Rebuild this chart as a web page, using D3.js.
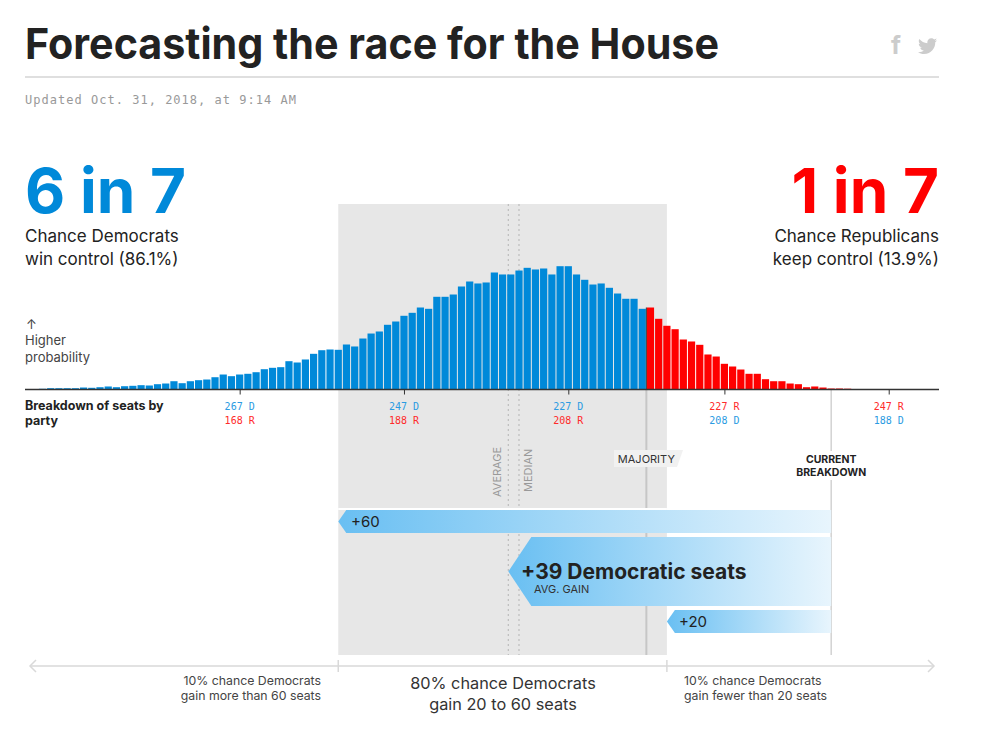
<!DOCTYPE html>
<html lang="en">

<head>
    <meta charset="UTF-8">
    <title>Forecasting the race for the House</title>
    <script src="https://cdn.jsdelivr.net/npm/d3@7"></script>
    <style>
        body {
            margin: 0;
            background: #fff;
        }
        text {
            font-family: Inter, "Noto Sans", sans-serif;
        }
        .mono {
            font-family: "DejaVu Sans Mono", monospace;
        }
    </style>
</head>

<body>
    <div id="chart"></div>
    <script>
        // democratic seats, one bar each, and the chance (%) of landing on it
        const demSeats = [291, 290, 289, 288, 287, 286, 285, 284, 283, 282, 281, 280, 279, 278, 277, 276, 275, 274, 273, 272,
            271, 270, 269, 268, 267, 266, 265, 264, 263, 262, 261, 260, 259, 258, 257, 256, 255, 254, 253, 252,
            251, 250, 249, 248, 247, 246, 245, 244, 243, 242, 241, 240, 239, 238, 237, 236, 235, 234, 233, 232,
            231, 230, 229, 228, 227, 226, 225, 224, 223, 222, 221, 220, 219, 218, 217, 216, 215, 214, 213, 212,
            211, 210, 209, 208, 207, 206, 205, 204, 203, 202, 201, 200, 199, 198, 197, 196, 195, 194, 193, 192];
        const chance = [.016, .029, .029, .029, .029, .044, .038, .051, .067, .051, .073, .082, .096, .089, .118, .133, .184, .14, .184, .207,
            .222, .273, .333, .296, .333, .349, .384, .451, .482, .496, .629, .6, .667, .793, .873, .889, .882, 1, .956, 1.133,
            1.244, 1.289, 1.438, 1.511, 1.638, 1.704, 1.822, 1.793, 2.06, 2.06, 2.111, 2.289, 2.4, 2.356, 2.378, 2.6, 2.556, 2.556, 2.644, 2.704,
            2.667, 2.689, 2.556, 2.74, 2.74, 2.556, 2.438, 2.333, 2.356, 2.26, 2.133, 2.016, 2.016, 1.793, 1.822, 1.571, 1.416, 1.34, 1.111, 1.067,
            .993, .778, .733, .571, .511, .444, .349, .349, .229, .184, .184, .133, .118, .051, .067, .044, .022, .022, .018, .011];

        const tickSeats = [267, 247, 227, 208, 188];
        const tickTop = ["267 D", "247 D", "227 D", "227 R", "247 R"];
        const tickBottom = ["168 R", "188 R", "208 R", "208 D", "188 D"];

        const currentSeats = 195;
        const majoritySeats = 218;
        const averageSeats = 234.3;
        const medianSeats = 233;
        const gainBars = [
            { label: "+60", seats: 255 },
            { label: "+39 Democratic seats", seats: 234.3 },
            { label: "+20", seats: 215 }
        ];

        const blue = "#0089d9";
        const red = "#ff0000";
        const width = 987;
        const height = 733;
        const baseY = 389.5;

        const svg = d3.select("#chart")
            .append("svg")
            .attr("width", width)
            .attr("height", height)
            .style("display", "block");

        const x = d3.scaleLinear().domain([227, 208]).range([568.3, 724.4]);
        const y = d3.scaleLinear().domain([0, 3]).range([baseY, baseY - 135]);
        const barW = x(0) - x(1);

        // gradient for the gain arrows
        const grad = svg.append("defs").append("linearGradient").attr("id", "gain");
        grad.append("stop").attr("offset", "0%").attr("stop-color", "#69bff2");
        grad.append("stop").attr("offset", "100%").attr("stop-color", "#e8f5fd");

        // title block
        svg.append("text").attr("x", 25).attr("y", 59)
            .attr("font-size", 43).attr("font-weight", 700).attr("fill", "#222")
            .attr("textLength", 694).attr("lengthAdjust", "spacingAndGlyphs")
            .text("Forecasting the race for the House");
        svg.append("line").attr("x1", 25).attr("x2", 939).attr("y1", 77).attr("y2", 77)
            .attr("stroke", "#d4d4d4").attr("stroke-width", 1.5);
        svg.append("text").attr("class", "mono").attr("x", 25).attr("y", 104)
            .attr("font-size", 12).attr("fill", "#999").attr("textLength", 271)
            .text("Updated Oct. 31, 2018, at 9:14 AM");

        // share icons
        svg.append("text").attr("x", 891).attr("y", 54)
            .attr("font-size", 25).attr("font-weight", 700).attr("fill", "#ccc")
            .text("f");
        svg.append("path")
            .attr("transform", "translate(918,36.5) scale(0.8)")
            .attr("fill", "#ccc")
            .attr("d", "M23.954 4.569c-.885.389-1.83.654-2.825.775 1.014-.611 1.794-1.574 2.163-2.723-.951.555-2.005.959-3.127 1.184-.896-.959-2.173-1.559-3.591-1.559-2.717 0-4.92 2.203-4.92 4.917 0 .39.045.765.127 1.124C7.691 8.094 4.066 6.13 1.64 3.161c-.427.722-.666 1.561-.666 2.475 0 1.71.87 3.213 2.188 4.096-.807-.026-1.566-.248-2.228-.616v.061c0 2.385 1.693 4.374 3.946 4.827-.413.111-.849.171-1.296.171-.314 0-.615-.03-.916-.086.631 1.953 2.445 3.377 4.604 3.417-1.68 1.319-3.809 2.105-6.102 2.105-.39 0-.779-.023-1.17-.067 2.189 1.394 4.768 2.209 7.557 2.209 9.054 0 13.999-7.496 13.999-13.986 0-.209 0-.42-.015-.63.961-.689 1.8-1.56 2.46-2.548z");

        // grey 80% band
        svg.append("rect")
            .attr("x", x(255)).attr("width", x(215) - x(255))
            .attr("y", 204).attr("height", 451)
            .attr("fill", "#e7e7e7");

        // average and median
        svg.selectAll(".dots")
            .data([averageSeats, medianSeats])
            .join("line")
            .attr("x1", d => x(d)).attr("x2", d => x(d))
            .attr("y1", 204).attr("y2", 655)
            .attr("stroke", "#bdbdbd").attr("stroke-width", 1.2).attr("stroke-dasharray", "2,3");

        // majority and current breakdown lines
        const majX = x(majoritySeats) + barW / 2;
        svg.append("line").attr("x1", majX).attr("x2", majX).attr("y1", baseY).attr("y2", 655)
            .attr("stroke", "#c6c6c6").attr("stroke-width", 2);
        svg.append("line").attr("x1", x(currentSeats)).attr("x2", x(currentSeats)).attr("y1", baseY).attr("y2", 655)
            .attr("stroke", "#d2d2d2").attr("stroke-width", 1.5);

        // bars
        svg.append("g")
            .selectAll("rect")
            .data(demSeats)
            .join("rect")
            .attr("x", d => x(d) - barW / 2 + 0.5)
            .attr("width", barW - 1)
            .attr("y", (d, i) => y(chance[i]))
            .attr("height", (d, i) => baseY - y(chance[i]))
            .attr("fill", d => d >= majoritySeats ? blue : red);
        svg.append("line").attr("x1", majX).attr("x2", majX)
            .attr("y1", y(chance[demSeats.indexOf(majoritySeats - 1)])).attr("y2", baseY)
            .attr("stroke", "#333").attr("stroke-width", 1);

        // seat axis
        const axis = svg.append("g")
            .attr("transform", `translate(0,${baseY})`)
            .call(d3.axisBottom(x).tickValues(tickSeats).tickSize(5).tickFormat(""));
        axis.select(".domain").attr("d", "M25,0H939").attr("stroke", "#333").attr("stroke-width", 1.3);
        axis.selectAll(".tick line").attr("stroke", "#333");

        svg.append("g").selectAll("text")
            .data(tickSeats)
            .join("text")
            .attr("class", "mono")
            .attr("x", d => x(d)).attr("y", 410)
            .attr("text-anchor", "middle").attr("font-size", 10)
            .attr("fill", (d, i) => tickTop[i].endsWith("D") ? "#2a9be2" : "#ff2a2a")
            .text((d, i) => tickTop[i]);
        svg.append("g").selectAll("text")
            .data(tickSeats)
            .join("text")
            .attr("class", "mono")
            .attr("x", d => x(d)).attr("y", 424)
            .attr("text-anchor", "middle").attr("font-size", 10)
            .attr("fill", (d, i) => tickBottom[i].endsWith("D") ? "#2a9be2" : "#ff2a2a")
            .text((d, i) => tickBottom[i]);

        // headline odds
        svg.append("text").attr("x", 25).attr("y", 213)
            .attr("font-size", 62).attr("font-weight", 700).attr("fill", blue)
            .text("6 in 7");
        svg.append("text").attr("x", 939).attr("y", 213).attr("text-anchor", "end")
            .attr("font-size", 62).attr("font-weight", 700).attr("fill", red)
            .text("1 in 7");

        const copy = svg.append("g").attr("font-size", 17).attr("fill", "#222");
        copy.append("text").attr("x", 25).attr("y", 242).text("Chance Democrats");
        copy.append("text").attr("x", 25).attr("y", 265).text("win control (86.1%)");
        copy.append("text").attr("x", 939).attr("y", 242).attr("text-anchor", "end").text("Chance Republicans");
        copy.append("text").attr("x", 939).attr("y", 265).attr("text-anchor", "end").text("keep control (13.9%)");

        const prob = svg.append("g").attr("font-size", 13).attr("fill", "#444");
        prob.append("text").attr("x", 26).attr("y", 329).text("↑");
        prob.append("text").attr("x", 25).attr("y", 345).text("Higher");
        prob.append("text").attr("x", 25).attr("y", 362).text("probability");

        const brk = svg.append("g").attr("font-size", 12.5).attr("font-weight", 700).attr("fill", "#222");
        brk.append("text").attr("x", 25).attr("y", 410).text("Breakdown of seats by");
        brk.append("text").attr("x", 25).attr("y", 425).text("party");

        // line labels
        svg.append("text")
            .attr("transform", `translate(${x(averageSeats) - 7},497) rotate(-90)`)
            .attr("font-size", 11).attr("fill", "#999").text("AVERAGE");
        svg.append("text")
            .attr("transform", `translate(${x(medianSeats) + 13},492) rotate(-90)`)
            .attr("font-size", 11).attr("fill", "#999").text("MEDIAN");

        svg.append("path")
            .attr("d", "M614,450H683L677,467H614Z")
            .attr("fill", "#f1f1f1");
        svg.append("text").attr("x", majX).attr("y", 463).attr("text-anchor", "middle")
            .attr("font-size", 11).attr("fill", "#333").text("MAJORITY");

        svg.append("rect").attr("x", x(currentSeats) - 42).attr("width", 84)
            .attr("y", 451).attr("height", 29).attr("fill", "#fff");
        svg.append("text").attr("x", x(currentSeats)).attr("y", 463).attr("text-anchor", "middle")
            .attr("font-size", 10.5).attr("font-weight", 700).attr("fill", "#222").text("CURRENT");
        svg.append("text").attr("x", x(currentSeats)).attr("y", 476).attr("text-anchor", "middle")
            .attr("font-size", 10.5).attr("font-weight", 700).attr("fill", "#222").text("BREAKDOWN");

        // gain arrows, white rule first so they lift off the band
        svg.append("rect").attr("x", x(255)).attr("width", x(215) - x(255))
            .attr("y", 508).attr("height", 2).attr("fill", "#fff");

        const rows = [
            { top: 510, bottom: 533, notch: 8 },
            { top: 537, bottom: 606, notch: 23 },
            { top: 610, bottom: 633, notch: 8 }
        ];
        svg.append("g").selectAll("path")
            .data(gainBars)
            .join("path")
            .attr("d", (d, i) => {
                const r = rows[i];
                const path = d3.path();
                path.moveTo(x(d.seats), (r.top + r.bottom) / 2);
                path.lineTo(x(d.seats) + r.notch, r.top);
                path.lineTo(x(currentSeats), r.top);
                path.lineTo(x(currentSeats), r.bottom);
                path.lineTo(x(d.seats) + r.notch, r.bottom);
                path.closePath();
                return path.toString();
            })
            .attr("fill", "url(#gain)");

        svg.append("text").attr("x", 351).attr("y", 527)
            .attr("font-size", 15).attr("fill", "#222").text(gainBars[0].label);
        svg.append("text").attr("x", 521).attr("y", 579)
            .attr("font-size", 21).attr("font-weight", 700).attr("fill", "#222").text(gainBars[1].label);
        svg.append("text").attr("x", 534).attr("y", 593)
            .attr("font-size", 11).attr("fill", "#333").text("AVG. GAIN");
        svg.append("text").attr("x", 679).attr("y", 627)
            .attr("font-size", 15).attr("fill", "#222").text(gainBars[2].label);

        // range arrow at the bottom
        const range = svg.append("g").attr("fill", "none").attr("stroke", "#d9d9d9").attr("stroke-width", 1.5);
        range.append("path").attr("d", "M31,666H934");
        range.append("path").attr("d", "M36,660L30,666L36,672");
        range.append("path").attr("d", "M928,660L934,666L928,672");
        range.append("path").attr("d", `M${x(255)},660V672M${x(215)},660V672`);

        const notes = svg.append("g").attr("font-size", 12.3).attr("fill", "#444");
        notes.append("text").attr("x", 321).attr("y", 685).attr("text-anchor", "end").text("10% chance Democrats");
        notes.append("text").attr("x", 321).attr("y", 700).attr("text-anchor", "end").text("gain more than 60 seats");
        notes.append("text").attr("x", 684).attr("y", 685).text("10% chance Democrats");
        notes.append("text").attr("x", 684).attr("y", 700).text("gain fewer than 20 seats");

        const mid = svg.append("g").attr("font-size", 16.3).attr("fill", "#333").attr("text-anchor", "middle");
        mid.append("text").attr("x", 503).attr("y", 689).text("80% chance Democrats");
        mid.append("text").attr("x", 503).attr("y", 710).text("gain 20 to 60 seats");
    </script>
</body>

</html>
